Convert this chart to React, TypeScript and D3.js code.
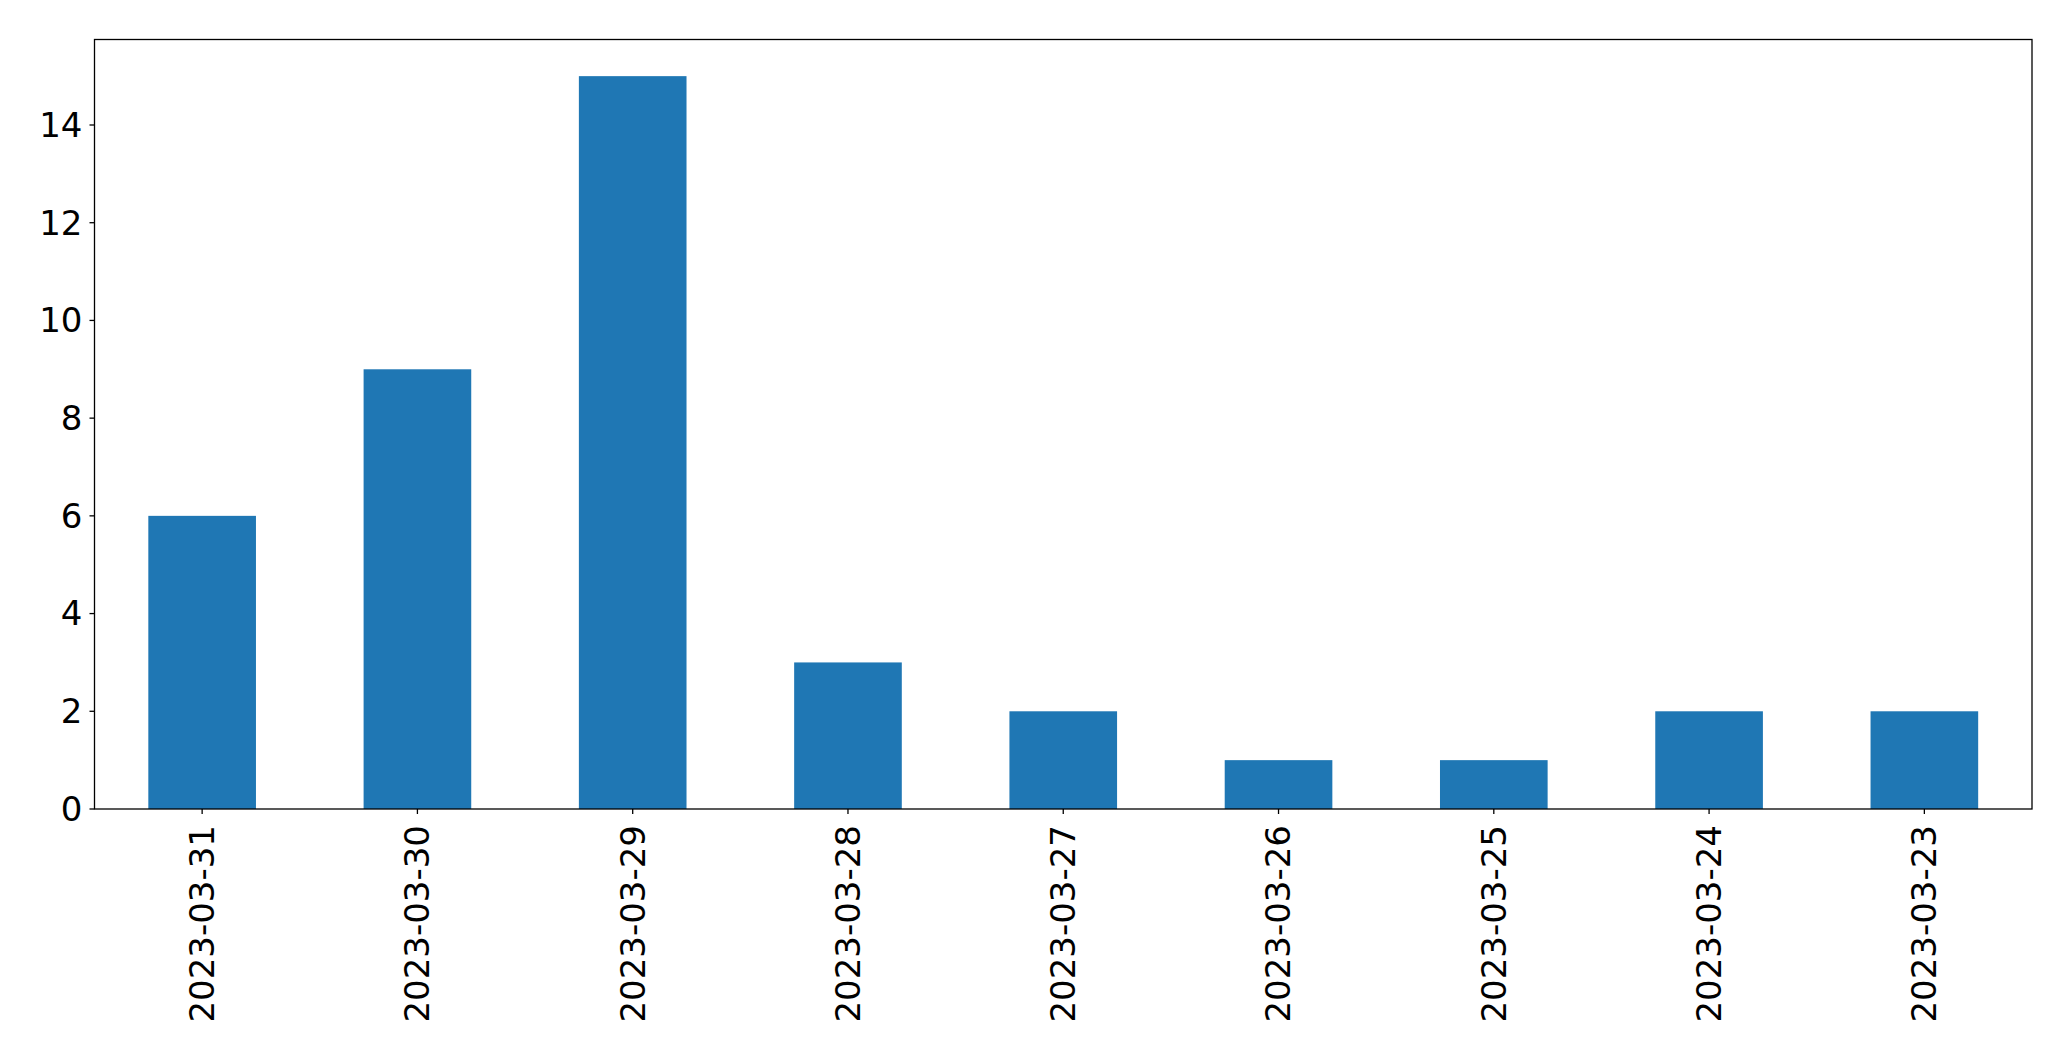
import React from "react";
import * as d3 from "d3";

const categories = ["2023-03-31", "2023-03-30", "2023-03-29", "2023-03-28", "2023-03-27", "2023-03-26", "2023-03-25", "2023-03-24", "2023-03-23"];
const values = [6, 9, 15, 3, 2, 1, 1, 2, 2];
const yTicks = [0, 2, 4, 6, 8, 10, 12, 14];

const W = 2071;
const H = 1061;
const M = { left: 94.5, right: 2032, top: 39.5, bottom: 809 };
const FONT = "'DejaVu Sans', sans-serif";
const FS = 34;

export default function App() {
  const x = d3.scaleBand<string>().domain(categories).range([M.left, M.right]).paddingInner(0.5).paddingOuter(0.25);
  const yMax = d3.max(values)! * 1.05;
  const y = d3.scaleLinear().domain([0, yMax]).range([M.bottom, M.top]);
  return (
    <div style={{ position: "absolute", left: 0, top: 0 }}>
      <svg width={W} height={H} style={{ display: "block", background: "#fff" }}>
        {categories.map((c, i) => (
          <rect key={c} x={x(c)} y={y(values[i])} width={x.bandwidth()} height={y(0) - y(values[i])} fill="#1f77b4" />
        ))}
        <rect x={M.left} y={M.top} width={M.right - M.left} height={M.bottom - M.top} fill="none" stroke="#000" strokeWidth={1.3} />
        {yTicks.map((t) => (
          <g key={t} transform={`translate(0,${y(t)})`}>
            <line x1={M.left - 5} x2={M.left} stroke="#000" strokeWidth={1.3} />
            <text x={M.left - 12} dy="0.35em" textAnchor="end" fontFamily={FONT} fontSize={FS} fill="#000">{t}</text>
          </g>
        ))}
        {categories.map((c) => {
          const cx = x(c)! + x.bandwidth() / 2;
          return (
            <g key={c}>
              <line x1={cx} x2={cx} y1={M.bottom} y2={M.bottom + 5} stroke="#000" strokeWidth={1.3} />
              <text transform={`translate(${cx},${M.bottom + 16}) rotate(-90)`} dy="0.35em" textAnchor="end" fontFamily={FONT} fontSize={FS} fill="#000">{c}</text>
            </g>
          );
        })}
      </svg>
    </div>
  );
}
